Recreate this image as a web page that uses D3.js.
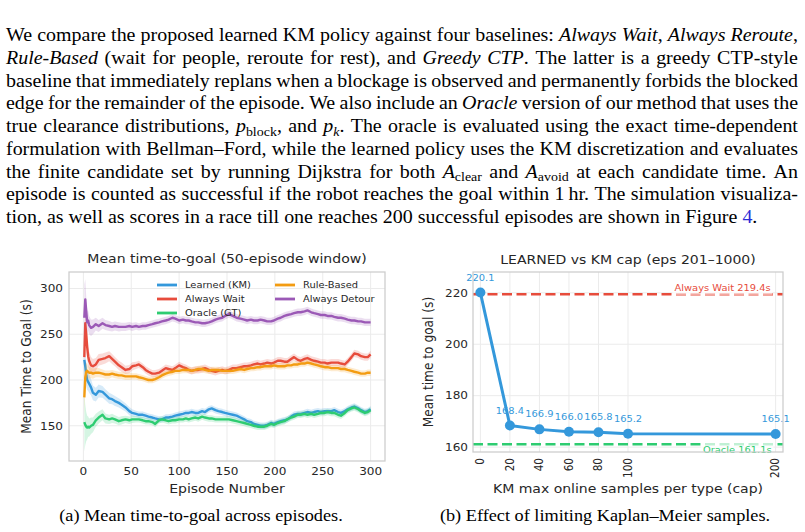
<!DOCTYPE html>
<html>
<head>
<meta charset="utf-8">
<title>KM policy results</title>
<style>
  body { margin: 0; background: #fff; }
  svg { display: block; }
  .serif { font-family: "Liberation Serif", "Times New Roman", serif; }
  .sans { font-family: "DejaVu Sans", sans-serif; }
</style>
</head>
<body>
<svg width="805" height="532"></svg>
<script src="https://cdn.jsdelivr.net/npm/d3@7"></script>
<script>

    var svg = d3.select("svg");
    var SX = 1.15;    // the figures sit in the page a bit stretched sideways
    var SXP = 1.05;   // and the page text a little too

    // ---------- text above the figures
    var paragraph = [
        [["We compare the proposed learned KM policy against four baselines: "], ["Always Wait", "i"], [", "], ["Always Reroute", "i"], [","]],
        [["Rule-Based", "i"], [" (wait for people, reroute for rest), and "], ["Greedy CTP", "i"], [". The latter is a greedy CTP-style"]],
        [["baseline that immediately replans when a blockage is observed and permanently forbids the blocked"]],
        [["edge for the remainder of the episode. We also include an "], ["Oracle", "i"], [" version of our method that uses the"]],
        [["true clearance distributions, "], ["p", "i"], ["block", "sub"], [", and "], ["p", "i"], ["k", "subi"], [". The oracle is evaluated using the exact time-dependent"]],
        [["formulation with Bellman\u2013Ford, while the learned policy uses the KM discretization and evaluates"]],
        [["the finite candidate set by running Dijkstra for both "], ["A", "i"], ["clear", "sub"], [" and "], ["A", "i"], ["avoid", "sub"], [" at each candidate time. An"]],
        [["episode is counted as successful if the robot reaches the goal within 1\u2009hr. The simulation visualiza-"]],
        [["tion, as well as scores in a race till one reaches 200 successful episodes are shown in Figure "], ["4", "link"], ["."]]
    ];
    var captionA = "(a) Mean time-to-goal across episodes.";
    var captionB = "(b) Effect of limiting Kaplan\u2013Meier samples.";

    // ---------- left panel: 50-episode window means
    var episodes = [
        1, 2, 3, 4, 5, 6, 8, 10, 13, 16,
        20, 23, 27, 30, 33, 37, 40, 44, 48, 51,
        55, 58, 62, 65, 68, 72, 75, 79, 82, 86,
        89, 93, 96, 100, 104, 107, 110, 113, 117, 120,
        124, 127, 131, 134, 138, 141, 145, 148, 152, 156,
        160, 164, 168, 171, 175, 178, 182, 185, 189, 192,
        196, 199, 203, 206, 210, 213, 217, 220, 224, 227,
        231, 234, 238, 241, 245, 248, 252, 255, 259, 262,
        266, 269, 273, 276, 280, 283, 287, 290, 294, 297,
        300];

    var learnedKM = [
        222, 215, 206, 200, 198, 196, 192, 186, 184, 188,
        187, 184, 180, 179, 177, 175, 173, 170, 166, 164,
        163, 162, 162, 161, 160, 159, 158, 157, 157, 159,
        159, 160, 161, 162, 163, 164, 164, 165, 164, 164,
        166, 165, 168, 169, 167, 166, 165, 164, 163, 162,
        161, 159, 157, 155, 154, 152, 151, 150, 150, 151,
        153, 152, 154, 155, 156, 157, 160, 162, 163, 163,
        164, 165, 164, 165, 166, 165, 166, 166, 166, 167,
        165, 164, 166, 168, 170, 171, 169, 167, 165, 166,
        168];
    var alwaysWait = [
        225, 262, 250, 236, 226, 221, 216, 215, 217, 222,
        223, 224, 226, 223, 220, 216, 214, 211, 212, 215,
        216, 217, 214, 211, 209, 207, 207, 208, 210, 213,
        212, 211, 213, 216, 214, 213, 211, 210, 211, 211,
        212, 213, 211, 210, 209, 210, 211, 210, 211, 213,
        213, 214, 215, 215, 216, 217, 218, 217, 218, 219,
        218, 219, 221, 221, 220, 220, 223, 225, 222, 221,
        223, 224, 222, 221, 220, 219, 219, 218, 219, 219,
        219, 218, 217, 220, 225, 229, 228, 226, 225, 225,
        228];
    var oracleGT = [
        154, 151, 149, 148, 149, 148, 150, 151, 156, 159,
        162, 158, 157, 158, 157, 155, 156, 157, 156, 157,
        157, 157, 156, 155, 155, 154, 152, 156, 157, 156,
        155, 156, 156, 157, 157, 158, 157, 158, 159, 158,
        160, 159, 158, 158, 157, 157, 157, 157, 157, 156,
        155, 154, 153, 152, 151, 150, 149, 149, 149, 150,
        152, 151, 153, 154, 155, 157, 159, 160, 162, 162,
        163, 162, 163, 162, 163, 164, 164, 165, 164, 164,
        162, 161, 164, 167, 169, 170, 168, 166, 164, 165,
        167];
    var ruleBased = [
        181, 203, 209, 210, 209, 208, 208, 207, 208, 208,
        207, 206, 206, 207, 206, 205, 205, 204, 204, 204,
        204, 203, 202, 201, 200, 200, 201, 203, 205, 207,
        208, 209, 210, 210, 211, 211, 211, 210, 211, 212,
        212, 211, 210, 211, 211, 211, 210, 210, 210, 210,
        211, 212, 211, 212, 213, 213, 214, 214, 215, 215,
        215, 216, 215, 215, 215, 216, 216, 217, 217, 218,
        218, 219, 218, 217, 216, 215, 214, 214, 213, 213,
        213, 212, 212, 211, 210, 209, 208, 207, 207, 208,
        208];
    var alwaysDetour = [
        268, 288, 275, 263, 265, 260, 257, 258, 261, 259,
        262, 260, 259, 258, 259, 258, 258, 258, 259, 258,
        259, 258, 259, 259, 260, 261, 262, 263, 264, 265,
        266, 268, 267, 265, 266, 265, 265, 264, 263, 263,
        262, 262, 263, 264, 266, 267, 268, 270, 272, 270,
        268, 267, 266, 265, 266, 265, 265, 266, 265, 264,
        264, 265, 267, 268, 270, 271, 272, 273, 274, 274,
        275, 276, 274, 273, 272, 271, 271, 270, 270, 269,
        268, 268, 267, 266, 265, 265, 264, 264, 263, 263,
        263];

    // half-width of the shaded band around each curve
    var learnedBand = [
        18, 15, 13, 11, 10, 10, 9, 8, 7.5, 7,
        6.5, 6, 6, 5.5, 5.5, 5, 5, 4.5, 4.5, 4,
        3.5, 3.5, 3.5, 3.5, 3.5, 3.5, 3.5, 3.5, 3.5, 3.5,
        3.5, 3.5, 3.5, 3.5, 3.5, 3.5, 3.5, 3.5, 3.5, 3.5,
        3.5, 3.5, 3.5, 3.5, 3.5, 3.5, 3.5, 3.5, 3.5, 3.5,
        3.5, 3.5, 3.5, 3.5, 3.5, 3.5, 3.5, 3.5, 3.5, 3.5,
        3.5, 3.5, 3.5, 3.5, 3.5, 3.5, 3.5, 3.5, 3.5, 3.5,
        3.5, 3.5, 3.5, 3.5, 3.5, 3.5, 3.5, 3.5, 3.5, 3.5,
        3.5, 3.5, 3.5, 3.5, 3.5, 3.5, 3.5, 3.5, 3.5, 3.5,
        3.5];
    var waitBand = [
        12, 20, 16, 13, 11, 10, 9, 8, 7, 6.5,
        6, 6, 5.5, 5.5, 5, 5, 5, 4.5, 4.5, 4.5,
        4, 4, 4, 4, 4, 4, 4, 4, 4, 4,
        4, 4, 4, 4, 4, 4, 4, 4, 4, 4,
        4, 4, 4, 4, 4, 4, 4, 4, 4, 4,
        4, 4, 4, 4, 4, 4, 4, 4, 4, 4,
        4, 4, 4, 4, 4, 4, 4, 4, 4, 4,
        4, 4, 4, 4, 4, 4, 4, 4, 4, 4,
        4, 4, 4, 4, 4, 4, 4, 4, 4, 4,
        4];
    var oracleBand = [
        32, 22, 16, 13, 11, 10, 9, 8, 7, 6.5,
        6, 5.5, 5, 5, 4.5, 4.5, 4.5, 4, 4, 4,
        3.5, 3.5, 3.5, 3.5, 3.5, 3.5, 3.5, 3.5, 3.5, 3.5,
        3.5, 3.5, 3.5, 3.5, 3.5, 3.5, 3.5, 3.5, 3.5, 3.5,
        3.5, 3.5, 3.5, 3.5, 3.5, 3.5, 3.5, 3.5, 3.5, 3.5,
        3.5, 3.5, 3.5, 3.5, 3.5, 3.5, 3.5, 3.5, 3.5, 3.5,
        3.5, 3.5, 3.5, 3.5, 3.5, 3.5, 3.5, 3.5, 3.5, 3.5,
        3.5, 3.5, 3.5, 3.5, 3.5, 3.5, 3.5, 3.5, 3.5, 3.5,
        3.5, 3.5, 3.5, 3.5, 3.5, 3.5, 3.5, 3.5, 3.5, 3.5,
        3.5];
    var ruleBand = [
        20, 14, 10, 8, 7, 6.5, 6, 5.5, 5, 5,
        4.5, 4.5, 4.5, 4, 4, 4, 4, 4, 4, 3.5,
        3.5, 3.5, 3.5, 3.5, 3.5, 3.5, 3.5, 3.5, 3.5, 3.5,
        3.5, 3.5, 3.5, 3.5, 3.5, 3.5, 3.5, 3.5, 3.5, 3.5,
        3.5, 3.5, 3.5, 3.5, 3.5, 3.5, 3.5, 3.5, 3.5, 3.5,
        3.5, 3.5, 3.5, 3.5, 3.5, 3.5, 3.5, 3.5, 3.5, 3.5,
        3.5, 3.5, 3.5, 3.5, 3.5, 3.5, 3.5, 3.5, 3.5, 3.5,
        3.5, 3.5, 3.5, 3.5, 3.5, 3.5, 3.5, 3.5, 3.5, 3.5,
        3.5, 3.5, 3.5, 3.5, 3.5, 3.5, 3.5, 3.5, 3.5, 3.5,
        3.5];
    var detourBand = [
        36, 22, 16, 13, 11, 10, 9, 8, 7, 6.5,
        6, 5.5, 5.5, 5, 5, 5, 4.5, 4.5, 4.5, 4.5,
        4, 4, 4, 4, 4, 4, 4, 4, 4, 4,
        4, 4, 4, 4, 4, 4, 4, 4, 4, 4,
        4, 4, 4, 4, 4, 4, 4, 4, 4, 4,
        4, 4, 4, 4, 4, 4, 4, 4, 4, 4,
        4, 4, 4, 4, 4, 4, 4, 4, 4, 4,
        4, 4, 4, 4, 4, 4, 4, 4, 4, 4,
        4, 4, 4, 4, 4, 4, 4, 4, 4, 4,
        4];

    var seriesNames  = ["Learned (KM)", "Always Wait", "Oracle (GT)", "Rule-Based", "Always Detour"];
    var seriesColors = ["#3498db", "#e74c3c", "#2ecc71", "#f39c12", "#9b59b6"];
    var seriesValues = [learnedKM, alwaysWait, oracleGT, ruleBased, alwaysDetour];
    var seriesBands  = [learnedBand, waitBand, oracleBand, ruleBand, detourBand];
    var leftXTicks = [0, 50, 100, 150, 200, 250, 300];
    var leftYTicks = [150, 200, 250, 300];

    // ---------- right panel: KM sample cap sweep
    var caps = [0, 20, 40, 60, 80, 100, 200];
    var capMeans = [220.1, 168.4, 166.9, 166.0, 165.8, 165.2, 165.1];
    var alwaysWaitMean = 219.4;
    var oracleMean = 161.1;
    var rightYTicks = [160, 180, 200, 220];

    var ink = "#262626";

    // text helper: horizontal text squeezed the same way as the figure images
    function stext(parent, x, y, str, size, anchor, rot) {
        return parent.append("text")
            .attr("transform", "translate(" + x + "," + y + ") scale(" + SX + ",1)" + (rot ? " rotate(" + rot + ")" : ""))
            .attr("text-anchor", anchor || "middle")
            .attr("font-size", size)
            .attr("fill", ink)
            .text(str);
    }

    // ================= paragraph =================
    var parLeft = 6, parRight = 798, parTop = 41, parLead = 22.75, parSize = 19;
    var par = svg.append("g").attr("class", "serif").attr("font-size", parSize).attr("fill", "#000");

    function toWords(line) {
        var words = [[]];
        line.forEach(function(seg) {
            seg[0].split(" ").forEach(function(p, i) {
                if (i > 0) words.push([]);
                if (p) words[words.length - 1].push([p, seg[1] || "r"]);
            });
        });
        return words.filter(function(w) { return w.length; });
    }

    paragraph.forEach(function(line, li) {
        var words = toWords(line);
        var yb = parTop + li * parLead;
        var nodes = words.map(function(w) {
            var t = par.append("text");
            var shift = 0;
            w.forEach(function(seg) {
                var st = seg[1];
                var isSub = st === "sub" || st === "subi";
                var ts = t.append("tspan").text(seg[0]);
                var target = isSub ? 3.8 : 0;
                if (target !== shift) { ts.attr("dy", target - shift); shift = target; }
                if (st === "i" || st === "subi") ts.attr("font-style", "italic");
                if (isSub) ts.attr("font-size", parSize * 0.7);
                if (st === "link") ts.attr("fill", "#2b2bd6");
            });
            return t;
        });
        var widths = nodes.map(function(n) { return n.node().getComputedTextLength() * SXP; });
        var last = li === paragraph.length - 1;
        var gap = last ? parSize * 0.25 * SXP : (parRight - parLeft - d3.sum(widths)) / (words.length - 1);
        var xx = parLeft;
        nodes.forEach(function(n, i) {
            n.attr("transform", "translate(" + xx + "," + yb + ") scale(" + SXP + ",1)");
            xx += widths[i] + gap;
        });
    });

    // ================= left panel =================
    var L = {left: 69, right: 385, top: 272, bottom: 461};
    var x = d3.scaleLinear().domain([-15, 315]).range([L.left, L.right]);
    var y = d3.scaleLinear().domain([111.5, 318]).range([L.bottom, L.top]);

    var g1 = svg.append("g").attr("class", "sans");

    g1.append("clipPath").attr("id", "clipL").append("rect")
        .attr("x", L.left).attr("y", L.top)
        .attr("width", L.right - L.left).attr("height", L.bottom - L.top);

    g1.append("g").selectAll("line").data(leftXTicks).enter().append("line")
        .attr("x1", function(d) { return x(d); }).attr("x2", function(d) { return x(d); })
        .attr("y1", L.top).attr("y2", L.bottom)
        .attr("stroke", "#ebebeb").attr("stroke-width", 1);
    g1.append("g").selectAll("line").data(leftYTicks).enter().append("line")
        .attr("x1", L.left).attr("x2", L.right)
        .attr("y1", function(d) { return y(d); }).attr("y2", function(d) { return y(d); })
        .attr("stroke", "#ebebeb").attr("stroke-width", 1);

    var plot1 = g1.append("g").attr("clip-path", "url(#clipL)");
    var area = d3.area()
        .x(function(d) { return x(d.ep); })
        .y0(function(d) { return y(d.v - d.hw); })
        .y1(function(d) { return y(d.v + d.hw); });
    var line = d3.line()
        .x(function(d) { return x(d.ep); })
        .y(function(d) { return y(d.v); });

    seriesValues.forEach(function(vals, s) {
        var pts = episodes.map(function(ep, i) { return {ep: ep, v: vals[i], hw: seriesBands[s][i]}; });
        plot1.append("path").datum(pts)
            .attr("d", area)
            .attr("fill", seriesColors[s]).attr("fill-opacity", 0.2);
        plot1.append("path").datum(pts)
            .attr("d", line)
            .attr("fill", "none")
            .attr("stroke", seriesColors[s]).attr("stroke-width", 2.4)
            .attr("stroke-linejoin", "round");
    });

    g1.append("rect")
        .attr("x", L.left).attr("y", L.top)
        .attr("width", L.right - L.left).attr("height", L.bottom - L.top)
        .attr("fill", "none").attr("stroke", "#cccccc").attr("stroke-width", 1.25);

    leftXTicks.forEach(function(t) { stext(g1, x(t), 475, t, 10.5); });
    leftYTicks.forEach(function(t) { stext(g1, L.left - 6, y(t) + 3.8, t, 10.5, "end"); });

    stext(g1, 227, 263, "Mean time-to-goal (50-episode window)", 12.2);
    stext(g1, 227, 493, "Episode Number", 12.2);
    stext(g1, 30.5, (L.top + L.bottom) / 2, "Mean Time to Goal (s)", 12.2, "middle", -90);

    // legend, two columns, no frame
    var legendX = [157, 275];
    var legendY = [285, 299, 313];
    seriesNames.forEach(function(name, s) {
        var col = s < 3 ? 0 : 1, row = s < 3 ? s : s - 3;
        g1.append("line")
            .attr("x1", legendX[col]).attr("x2", legendX[col] + 20)
            .attr("y1", legendY[row]).attr("y2", legendY[row])
            .attr("stroke", seriesColors[s]).attr("stroke-width", 2.8);
        stext(g1, legendX[col] + 28, legendY[row] + 3.3, name, 8.6, "start");
    });

    // ================= right panel =================
    var R = {left: 473, right: 783, top: 272, bottom: 452};
    var x2 = d3.scaleLinear().domain([-5, 205]).range([R.left, R.right]);
    var y2 = d3.scaleLinear().domain([158.1, 228.1]).range([R.bottom, R.top]);

    var g2 = svg.append("g").attr("class", "sans");

    g2.append("g").selectAll("line").data(caps).enter().append("line")
        .attr("x1", function(d) { return x2(d); }).attr("x2", function(d) { return x2(d); })
        .attr("y1", R.top).attr("y2", R.bottom)
        .attr("stroke", "#ebebeb").attr("stroke-width", 1);
    g2.append("g").selectAll("line").data(rightYTicks).enter().append("line")
        .attr("x1", R.left).attr("x2", R.right)
        .attr("y1", function(d) { return y2(d); }).attr("y2", function(d) { return y2(d); })
        .attr("stroke", "#ebebeb").attr("stroke-width", 1);

    // reference lines
    g2.append("line")
        .attr("x1", R.left).attr("x2", R.right)
        .attr("y1", y2(alwaysWaitMean)).attr("y2", y2(alwaysWaitMean))
        .attr("stroke", "#e74c3c").attr("stroke-width", 2.5).attr("stroke-dasharray", "10,4.5");
    g2.append("line")
        .attr("x1", R.left).attr("x2", R.right)
        .attr("y1", y2(oracleMean)).attr("y2", y2(oracleMean))
        .attr("stroke", "#2ecc71").attr("stroke-width", 2.5).attr("stroke-dasharray", "10,4.5");

    var capPts = caps.map(function(c, i) { return {c: c, v: capMeans[i]}; });
    g2.append("path").datum(capPts)
        .attr("d", d3.line().x(function(d) { return x2(d.c); }).y(function(d) { return y2(d.v); }))
        .attr("fill", "none").attr("stroke", "#3498db").attr("stroke-width", 3)
        .attr("stroke-linejoin", "round");
    g2.append("g").selectAll("circle").data(capPts).enter().append("circle")
        .attr("cx", function(d) { return x2(d.c); })
        .attr("cy", function(d) { return y2(d.v); })
        .attr("r", 5)
        .attr("fill", "#3498db");
    capPts.forEach(function(d) {
        stext(g2, x2(d.c), y2(d.v) - 12, d.v.toFixed(1), 8.6).attr("fill", "#3498db");
    });

    // reference labels with a pale box behind
    function refLabel(xr, yb, str, color) {
        var t = stext(g2, xr, yb, str, 8.6, "end").attr("fill", color);
        var bb = t.node().getBBox();
        g2.insert("rect", function() { return t.node(); })
            .attr("x", xr - bb.width * SX - 2).attr("y", yb + bb.y - 1.5)
            .attr("width", bb.width * SX + 4).attr("height", bb.height + 3)
            .attr("fill", "#fff").attr("fill-opacity", 0.7);
    }
    refLabel(x2(200) - 5, y2(alwaysWaitMean) - 3, "Always Wait " + alwaysWaitMean + "s", "#e74c3c");
    refLabel(x2(200) - 4, y2(oracleMean) + 8.5, "Oracle " + oracleMean + "s", "#2ecc71");

    g2.append("rect")
        .attr("x", R.left).attr("y", R.top)
        .attr("width", R.right - R.left).attr("height", R.bottom - R.top)
        .attr("fill", "none").attr("stroke", "#cccccc").attr("stroke-width", 1.25);

    caps.forEach(function(c) { stext(g2, x2(c) + 3.6, R.bottom + 6, c, 10.5, "end", -90); });
    rightYTicks.forEach(function(t) { stext(g2, R.left - 5, y2(t) + 3.8, t, 10.5, "end"); });

    stext(g2, 628, 264, "LEARNED vs KM cap (eps 201\u20131000)", 12.2);
    stext(g2, 628, 493, "KM max online samples per type (cap)", 12.2);
    stext(g2, 433, (R.top + R.bottom) / 2, "Mean time to goal (s)", 12.2, "middle", -90);

    // ================= captions =================
    var cap = svg.append("g").attr("class", "serif").attr("font-size", 17.4).attr("fill", "#000");
    cap.append("text").attr("transform", "translate(201,521) scale(" + SXP + ",1)")
        .attr("text-anchor", "middle").text(captionA);
    cap.append("text").attr("transform", "translate(605,521) scale(" + SXP + ",1)")
        .attr("text-anchor", "middle").text(captionB);

</script>
</body>
</html>
